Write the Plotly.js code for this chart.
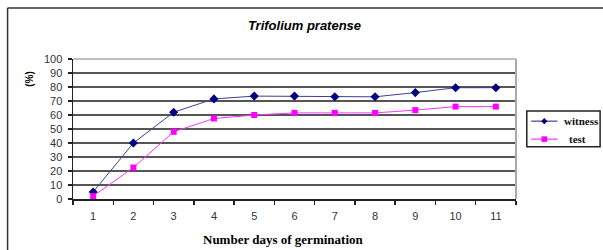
<!DOCTYPE html>
<html>
<head>
<meta charset="utf-8">
<script src="https://cdn.plot.ly/plotly-3.0.1.min.js"></script>
<style>html,body{margin:0;padding:0;background:#fff;}#chart{width:603px;height:250px;}</style>
</head>
<body>
<div id="chart"></div>
<script>
const days = ["1","2","3","4","5","6","7","8","9","10","11"];
const witness = [5, 40, 62, 71.5, 73.5, 73.5, 73, 73, 76, 79.5, 79.5];
const test = [2, 22.5, 48, 57.5, 60, 61.5, 61.5, 61.5, 63.5, 66, 66];
const yTicks = [0,10,20,30,40,50,60,70,80,90,100];
const seriesNames = ["witness", "test"];

const witnessStyle = {line: {color: "#3f3f9a", width: 1}, marker: {symbol: "diamond", size: 7, color: "#000080"}};
const testStyle = {line: {color: "#ff33ff", width: 1}, marker: {symbol: "square", size: 6, color: "#ff00ff"}};

const traces = [
  Object.assign({x: days, y: witness, name: seriesNames[0], type: "scatter", mode: "lines+markers"}, witnessStyle),
  Object.assign({x: days, y: test, name: seriesNames[1], type: "scatter", mode: "lines+markers"}, testStyle)
];

const L = 73, R = 516.5, T = 58.7, B = 199;
const pw = R - L, ph = B - T;
const px = v => (v - L) / pw;
const py = v => (B - v) / ph;

// custom legend (box + sample lines + sample markers drawn as shapes)
const lg = {x0: 527.3, x1: 600.7, y0: 110.7, y1: 146.7, rows: [121, 139], s0: 531.7, s1: 558, textX: [563, 567.7]};
function diamondPath(cx, cy, r) {
  return `M${px(cx)},${py(cy - r)} L${px(cx + r)},${py(cy)} L${px(cx)},${py(cy + r)} L${px(cx - r)},${py(cy)} Z`;
}
const legendShapes = [
  {type: "rect", xref: "paper", yref: "paper", x0: px(lg.x0), x1: px(lg.x1), y0: py(lg.y0), y1: py(lg.y1),
   line: {color: "#222", width: 1.5}, fillcolor: "#fff"},
  {type: "line", xref: "paper", yref: "paper", x0: px(lg.s0), x1: px(lg.s1), y0: py(lg.rows[0]), y1: py(lg.rows[0]),
   line: {color: witnessStyle.line.color, width: 1.2}},
  {type: "path", xref: "paper", yref: "paper", path: diamondPath((lg.s0 + lg.s1) / 2, lg.rows[0], 3.2),
   fillcolor: witnessStyle.marker.color, line: {width: 0}},
  {type: "line", xref: "paper", yref: "paper", x0: px(lg.s0), x1: px(lg.s1), y0: py(lg.rows[1]), y1: py(lg.rows[1]),
   line: {color: testStyle.line.color, width: 1.2}},
  {type: "rect", xref: "paper", yref: "paper", x0: px((lg.s0 + lg.s1) / 2 - 2.8), x1: px((lg.s0 + lg.s1) / 2 + 2.8),
   y0: py(lg.rows[1] - 2.8), y1: py(lg.rows[1] + 2.8), fillcolor: testStyle.marker.color, line: {width: 0}}
];
const legendTexts = seriesNames.map((n, i) => ({
  text: n, xref: "paper", yref: "paper", x: px(lg.textX[i]), y: py(lg.rows[i]),
  xanchor: "left", yanchor: "middle", showarrow: false,
  font: {family: "Liberation Serif, Times New Roman", size: 11, weight: "bold", color: "#111"}
}));

const layout = {
  width: 603, height: 250,
  margin: {l: L, r: 603 - R, t: T, b: 250 - B, pad: 0, autoexpand: false},
  paper_bgcolor: "#fff", plot_bgcolor: "#fff",
  showlegend: false,
  title: {text: "Trifolium pratense", x: 304.5/603, xanchor: "center", xref: "container",
          y: 1 - 25.5/250, yanchor: "middle", yref: "container",
          font: {family: "Liberation Sans, Arial", size: 13, weight: "bold", style: "italic", color: "#000"}},
  xaxis: {type: "category", categoryorder: "array", categoryarray: days,
          range: [-0.5, 10.5], tickson: "boundaries", ticks: "outside", ticklen: 4, tickwidth: 1.5, tickcolor: "#222",
          showgrid: false, zeroline: false, showline: true, linecolor: "#222", linewidth: 1.5,
          tickfont: {family: "Liberation Sans, Arial", size: 11, color: "#333"}, ticklabelstandoff: 6,
          fixedrange: true},
  yaxis: {range: [0, 100], tickvals: yTicks, ticktext: yTicks.map(String), ticks: "outside", ticklen: 4, tickwidth: 1.5, tickcolor: "#222",
          showgrid: true, gridcolor: "#555", gridwidth: 1.5, zeroline: false,
          showline: true, linecolor: "#222", linewidth: 1.5,
          tickfont: {family: "Liberation Sans, Arial", size: 11, color: "#333"}, ticklabelstandoff: 3,
          fixedrange: true},
  shapes: [
    {type: "line", xref: "paper", yref: "paper", x0: 1, x1: 1, y0: 0, y1: 1, line: {color: "#aaaaaa", width: 2}},
    {type: "line", xref: "paper", yref: "paper", x0: 0, x1: 1, y0: 1, y1: 1, line: {color: "#aaaaaa", width: 1.5}},
    {type: "line", xref: "paper", yref: "paper", x0: px(7.5), x1: px(7.5), y0: py(7.5), y1: py(260), line: {color: "#333", width: 1.5}},
    {type: "line", xref: "paper", yref: "paper", x0: px(7.5), x1: px(610), y0: py(7.5), y1: py(7.5), line: {color: "#333", width: 1.5}}
  ].concat(legendShapes),
  annotations: [
    {text: "Number days of germination", xref: "paper", yref: "paper", x: px(283.5), y: py(240),
     xanchor: "center", yanchor: "middle", showarrow: false,
     font: {family: "Liberation Serif, Times New Roman", size: 13, weight: "bold", color: "#000"}},
    {text: "(%)", xref: "paper", yref: "paper", x: px(30), y: py(78.5), textangle: -90,
     xanchor: "center", yanchor: "middle", showarrow: false,
     font: {family: "Liberation Sans, Arial", size: 10, weight: "bold", color: "#000"}}
  ].concat(legendTexts)
};

Plotly.newPlot("chart", traces, layout, {displayModeBar: false, staticPlot: true});
</script>
</body>
</html>
